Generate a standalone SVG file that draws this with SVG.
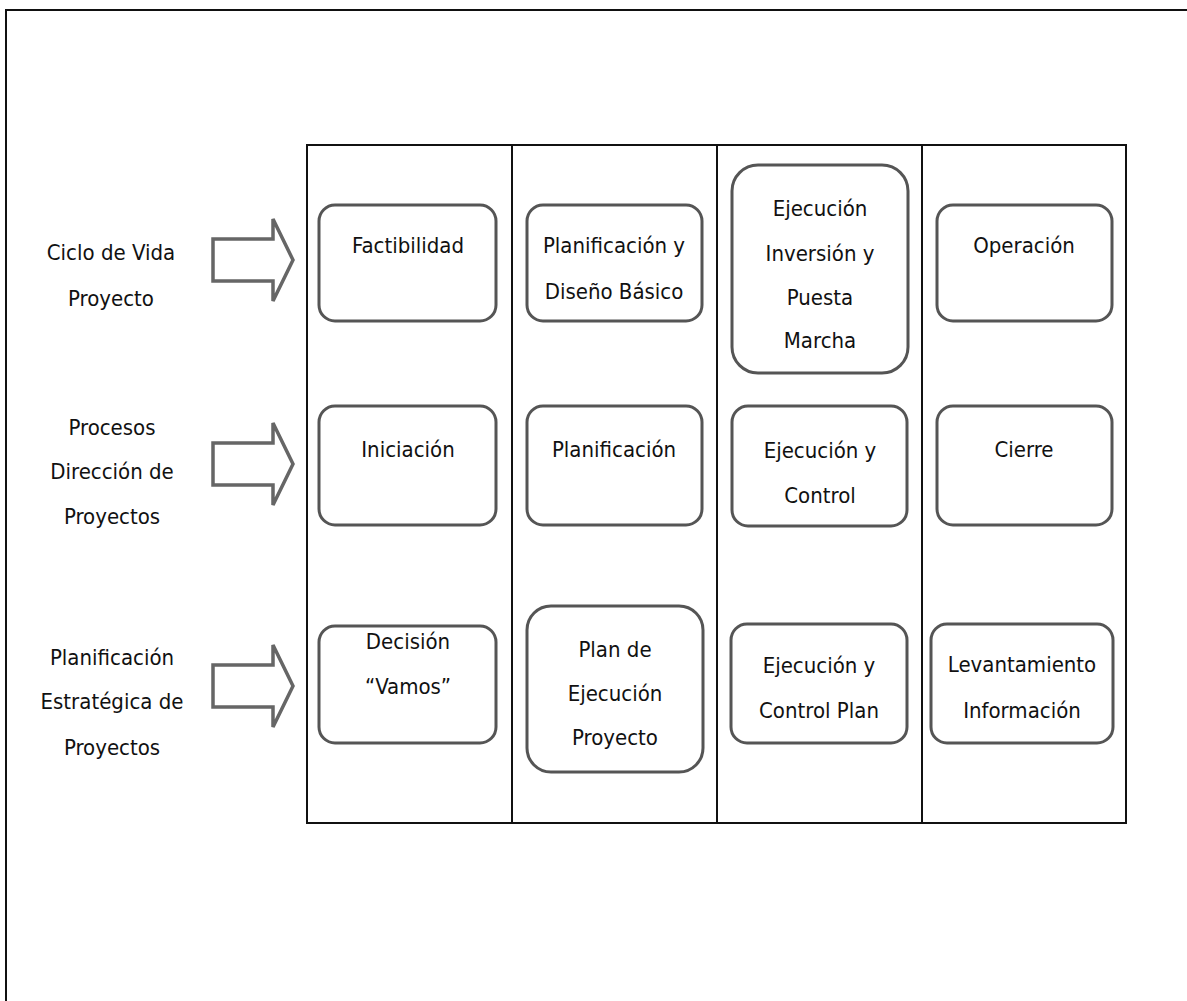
<svg xmlns="http://www.w3.org/2000/svg" width="1187" height="1001" viewBox="0 0 1187 1001">
  <style>
    .frame { fill: none; stroke: #111; stroke-width: 2; }
    .grid { fill: none; stroke: #111; stroke-width: 2; }
    .box { fill: #fff; stroke: #555; stroke-width: 3; }
    .arrow { fill: #fff; stroke: #666; stroke-width: 3.5; stroke-linejoin: miter; }
    text { font-family: "Liberation Sans Narrow", "DejaVu Sans Condensed", "Liberation Sans", sans-serif; font-size: 22px; fill: #111; text-anchor: middle; }
  </style>

  <!-- page frame -->
  <path class="frame" d="M6,1001 V10 H1187"/>

  <!-- table with four phase columns -->
  <g id="table">
    <rect class="grid" x="307" y="145" width="819" height="678"/>
    <line class="grid" x1="512" y1="145" x2="512" y2="823"/>
    <line class="grid" x1="717" y1="145" x2="717" y2="823"/>
    <line class="grid" x1="922" y1="145" x2="922" y2="823"/>
  </g>

  <!-- row labels -->
  <g id="label-ciclo">
    <text x="111" y="260">Ciclo de Vida</text>
    <text x="111" y="306">Proyecto</text>
  </g>
  <g id="label-procesos">
    <text x="112" y="435">Procesos</text>
    <text x="112" y="479">Dirección de</text>
    <text x="112" y="524">Proyectos</text>
  </g>
  <g id="label-planificacion">
    <text x="112" y="665">Planificación</text>
    <text x="112" y="709">Estratégica de</text>
    <text x="112" y="755">Proyectos</text>
  </g>

  <!-- block arrows pointing into the table -->
  <g id="connectors">
    <path class="arrow" d="M213,239 H273 V219 L293,260 L273,301 V281 H213 Z"/>
    <path class="arrow" d="M213,443 H273 V423 L293,464 L273,505 V485 H213 Z"/>
    <path class="arrow" d="M213,665 H273 V645 L293,686 L273,727 V707 H213 Z"/>
  </g>

  <!-- row 1: life cycle -->
  <g id="n-factibilidad">
    <rect class="box" x="319" y="205" width="177" height="116" rx="16"/>
    <text x="408" y="253">Factibilidad</text>
  </g>
  <g id="n-diseno">
    <rect class="box" x="527" y="205" width="175" height="116" rx="16"/>
    <text x="614" y="253">Planificación y</text>
    <text x="614" y="299">Diseño Básico</text>
  </g>
  <g id="n-ejecucion-inversion">
    <rect class="box" x="732" y="165" width="176" height="208" rx="26"/>
    <text x="820" y="216">Ejecución</text>
    <text x="820" y="261">Inversión y</text>
    <text x="820" y="305">Puesta</text>
    <text x="820" y="348">Marcha</text>
  </g>
  <g id="n-operacion">
    <rect class="box" x="937" y="205" width="175" height="116" rx="16"/>
    <text x="1024" y="253">Operación</text>
  </g>

  <!-- row 2: project management processes -->
  <g id="n-iniciacion">
    <rect class="box" x="319" y="406" width="177" height="119" rx="16"/>
    <text x="408" y="457">Iniciación</text>
  </g>
  <g id="n-planificacion">
    <rect class="box" x="527" y="406" width="175" height="119" rx="16"/>
    <text x="614" y="457">Planificación</text>
  </g>
  <g id="n-ejecucion-control">
    <rect class="box" x="732" y="406" width="175" height="120" rx="16"/>
    <text x="820" y="458">Ejecución y</text>
    <text x="820" y="503">Control</text>
  </g>
  <g id="n-cierre">
    <rect class="box" x="937" y="406" width="175" height="119" rx="16"/>
    <text x="1024" y="457">Cierre</text>
  </g>

  <!-- row 3: strategic project planning -->
  <g id="n-decision">
    <rect class="box" x="319" y="626" width="177" height="117" rx="16"/>
    <text x="408" y="649">Decisión</text>
    <text x="408" y="694">“Vamos”</text>
  </g>
  <g id="n-plan-ejecucion">
    <rect class="box" x="527" y="606" width="176" height="166" rx="24"/>
    <text x="615" y="657">Plan de</text>
    <text x="615" y="701">Ejecución</text>
    <text x="615" y="745">Proyecto</text>
  </g>
  <g id="n-control-plan">
    <rect class="box" x="731" y="624" width="176" height="119" rx="16"/>
    <text x="819" y="673">Ejecución y</text>
    <text x="819" y="718">Control Plan</text>
  </g>
  <g id="n-levantamiento">
    <rect class="box" x="931" y="624" width="182" height="119" rx="16"/>
    <text x="1022" y="672">Levantamiento</text>
    <text x="1022" y="718">Información</text>
  </g>
</svg>
